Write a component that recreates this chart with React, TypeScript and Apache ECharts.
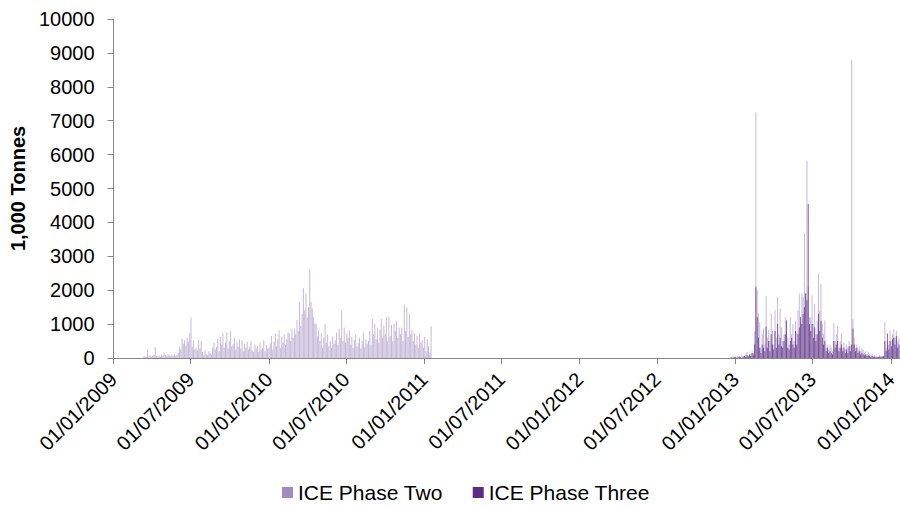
import React, { useEffect, useRef } from "react";
import * as echarts from "echarts";

// ---------- data ----------
const SERIES_NAMES = ["ICE Phase Two", "ICE Phase Three"];
const STEP_DAYS = 3; // one value per 3 calendar days

// Period 1 (ICE Phase Two): starts 13/03/2009
const PERIOD1_START = [2009, 3, 13];
const phaseTwo2009: number[] = [
  40, 60, 30, 260, 50, 80, 40, 70, 90, 320, 60, 50, 80, 40, 100, 70, 160, 90, 60, 110,
  80, 50, 100, 70, 120, 60, 90, 150, 330, 250, 580, 420, 520, 360, 600, 480, 740, 1190, 330, 520,
  260, 300, 230, 530, 280, 500, 180, 90, 230, 120, 80, 200, 150, 100, 300, 450, 250, 330, 570, 200,
  620, 380, 720, 300, 450, 760, 280, 500, 790, 350, 420, 600, 250, 480, 330, 550, 280, 520, 200, 430,
  300, 480, 250, 330, 500, 230, 180, 400, 280, 350, 180, 450, 250, 300, 520, 200, 380, 280, 300, 430,
  650, 250, 480, 720, 350, 550, 820, 300, 620, 450, 700, 380, 560, 760, 720, 500, 860, 600, 880, 700,
  1120, 800, 1660, 950, 1300, 2060, 1410, 1900, 1200, 1500, 2620, 1660, 1460, 1220, 1020, 1000, 640, 830, 500, 740,
  300, 600, 1000, 450, 700, 350, 500, 300, 640, 420, 520, 760, 400, 860, 600, 1410, 500, 900, 450, 720,
  600, 820, 400, 620, 300, 520, 700, 350, 450, 600, 280, 500, 750, 330, 550, 420, 500, 800, 400, 1150,
  700, 1000, 550, 900, 450, 850, 1150, 600, 950, 700, 1200, 500, 1220, 650, 970, 500, 1000, 800, 1100, 600,
  900, 700, 900, 500, 1580, 800, 1500, 620, 1300, 700, 820, 500, 720, 400, 650, 300, 720, 450, 520, 300,
  620, 200, 550, 350, 150, 940,
];

// Period 2: starts 17/12/2012
const PERIOD2_START = [2012, 12, 17];
const phaseTwo2013: number[] = [
  0, 30, 0, 50, 20, 0, 40, 60, 30, 0, 80, 50, 20, 100, 180, 40, 60, 120, 200, 150,
  790, 7240, 2000, 1310, 1060, 300, 720, 870, 400, 1830, 600, 820, 500, 1310, 800, 400, 1410, 600, 1800, 700,
  1460, 900, 500, 700, 1210, 800, 600, 400, 1200, 700, 1000, 500, 1100, 750, 1400, 1900, 1050, 1900, 1800, 3670,
  1900, 5820, 2100, 1200, 1200, 1850, 1000, 1600, 700, 1100, 2490, 1400, 2200, 1000, 700, 1110, 300, 400, 250, 400,
  300, 200, 1030, 500, 700, 960, 300, 500, 720, 300, 450, 250, 400, 300, 500, 350, 8800, 1160, 600, 300,
  400, 250, 350, 200, 300, 250, 150, 200, 120, 180, 100, 80, 120, 60, 80, 50, 60, 40, 80, 50,
  60, 80, 1060, 300, 500, 400, 820, 500, 700, 850, 600, 800, 500, 600,
];
const phaseThree2013: number[] = [
  0, 0, 20, 0, 30, 40, 0, 20, 50, 30, 0, 40, 60, 30, 80, 50, 100, 60, 150, 100,
  400, 2100, 1200, 600, 300, 150, 400, 300, 200, 920, 300, 500, 200, 700, 400, 250, 800, 300, 1000, 400,
  600, 350, 300, 500, 700, 1110, 300, 250, 500, 600, 400, 300, 800, 400, 700, 900, 1200, 1000, 1300, 1500,
  1900, 1700, 4540, 1000, 800, 1000, 600, 900, 500, 700, 1300, 800, 1100, 600, 400, 500, 200, 300, 150, 200,
  150, 100, 500, 300, 400, 500, 200, 300, 400, 200, 300, 150, 250, 150, 350, 200, 400, 870, 400, 200,
  300, 150, 200, 100, 150, 100, 80, 100, 60, 80, 50, 40, 60, 30, 40, 20, 30, 20, 50, 30,
  40, 50, 500, 200, 720, 250, 500, 350, 550, 600, 400, 650, 300, 400,
];

const TICK_LABELS = [
  "01/01/2009", "01/07/2009", "01/01/2010", "01/07/2010", "01/01/2011", "01/07/2011",
  "01/01/2012", "01/07/2012", "01/01/2013", "01/07/2013", "01/01/2014",
];
const AXIS_START = "01/01/2009";
const AXIS_END = "22/01/2014";
const Y_MAX = 10000;
const Y_STEP = 1000;
const Y_TITLE = "1,000 Tonnes";

// ---------- helpers ----------
const parseDMY = (s: string) => {
  const [d, m, y] = s.split("/").map(Number);
  return new Date(y, m - 1, d).getTime();
};
const pad = (n: number) => (n < 10 ? "0" + n : "" + n);
const fmtDMY = (t: number) => {
  const d = new Date(t);
  return pad(d.getDate()) + "/" + pad(d.getMonth() + 1) + "/" + d.getFullYear();
};
const toPairs = (start: number[], values: number[]) =>
  values.map((v, i) => [new Date(start[0], start[1] - 1, start[2] + i * STEP_DAYS).getTime(), v]);

const FONT = "'Liberation Sans', Arial, sans-serif";
const C_TWO = "#A08BBF";
const C_THREE = "#5E2C86";

export default function App() {
  const ref = useRef<HTMLDivElement>(null);
  useEffect(() => {
    if (!ref.current) return;
    const chart = echarts.init(ref.current, null, { renderer: "svg" });
    const tickValues = TICK_LABELS.map(parseDMY);
    const p2 = [...toPairs(PERIOD1_START, phaseTwo2009), ...toPairs(PERIOD2_START, phaseTwo2013)];
    const p3 = toPairs(PERIOD2_START, phaseThree2013);
    chart.setOption({
      animation: false,
      backgroundColor: "#fff",
      textStyle: { fontFamily: FONT },
      grid: { left: 112, right: 0, top: 19, bottom: 148, containLabel: false },
      legend: {
        top: 477,
        left: 277,
        itemWidth: 11,
        itemHeight: 11,
        itemGap: 30,
        icon: "rect",
        itemStyle: { opacity: 1 },
        textStyle: { fontSize: 21, color: "#000", fontFamily: FONT },
        data: SERIES_NAMES,
      },
      xAxis: {
        type: "value",
        min: parseDMY(AXIS_START),
        max: parseDMY(AXIS_END),
        scale: true,
        axisLine: { show: true, onZero: false, lineStyle: { color: "#868686", width: 1 } },
        axisTick: { show: true, customValues: tickValues, length: 6, lineStyle: { color: "#868686" } },
        axisLabel: {
          customValues: tickValues,
          rotate: 45,
          fontSize: 20,
          color: "#000",
          fontFamily: FONT,
          margin: 18,
          formatter: (v: number) => fmtDMY(v),
        },
        splitLine: { show: false },
      },
      yAxis: {
        type: "value",
        min: 0,
        max: Y_MAX,
        interval: Y_STEP,
        name: Y_TITLE,
        nameLocation: "middle",
        nameRotate: 90,
        nameGap: 82,
        nameTextStyle: { fontSize: 20, fontWeight: "bold", color: "#000", fontFamily: FONT },
        axisLine: { show: true, lineStyle: { color: "#868686", width: 1 } },
        axisTick: { show: true, length: 6, lineStyle: { color: "#868686" } },
        axisLabel: {
          fontSize: 20,
          color: "#000",
          margin: 19,
          fontFamily: FONT,
          formatter: (v: number) => String(v),
        },
        splitLine: { show: false },
      },
      series: [
        {
          name: SERIES_NAMES[0],
          type: "bar",
          data: p2,
          barWidth: 0.6,
          barGap: "-100%",
          itemStyle: { color: C_TWO, opacity: 0.6 },
        },
        {
          name: SERIES_NAMES[1],
          type: "bar",
          data: p3,
          barWidth: 0.6,
          barGap: "-100%",
          itemStyle: { color: C_THREE, opacity: 0.75 },
        },
      ],
    });
    return () => chart.dispose();
  }, []);
  return (
    <div
      ref={ref}
      style={{ position: "fixed", left: 0, top: 0, width: 900, height: 506, background: "#fff" }}
    />
  );
}
